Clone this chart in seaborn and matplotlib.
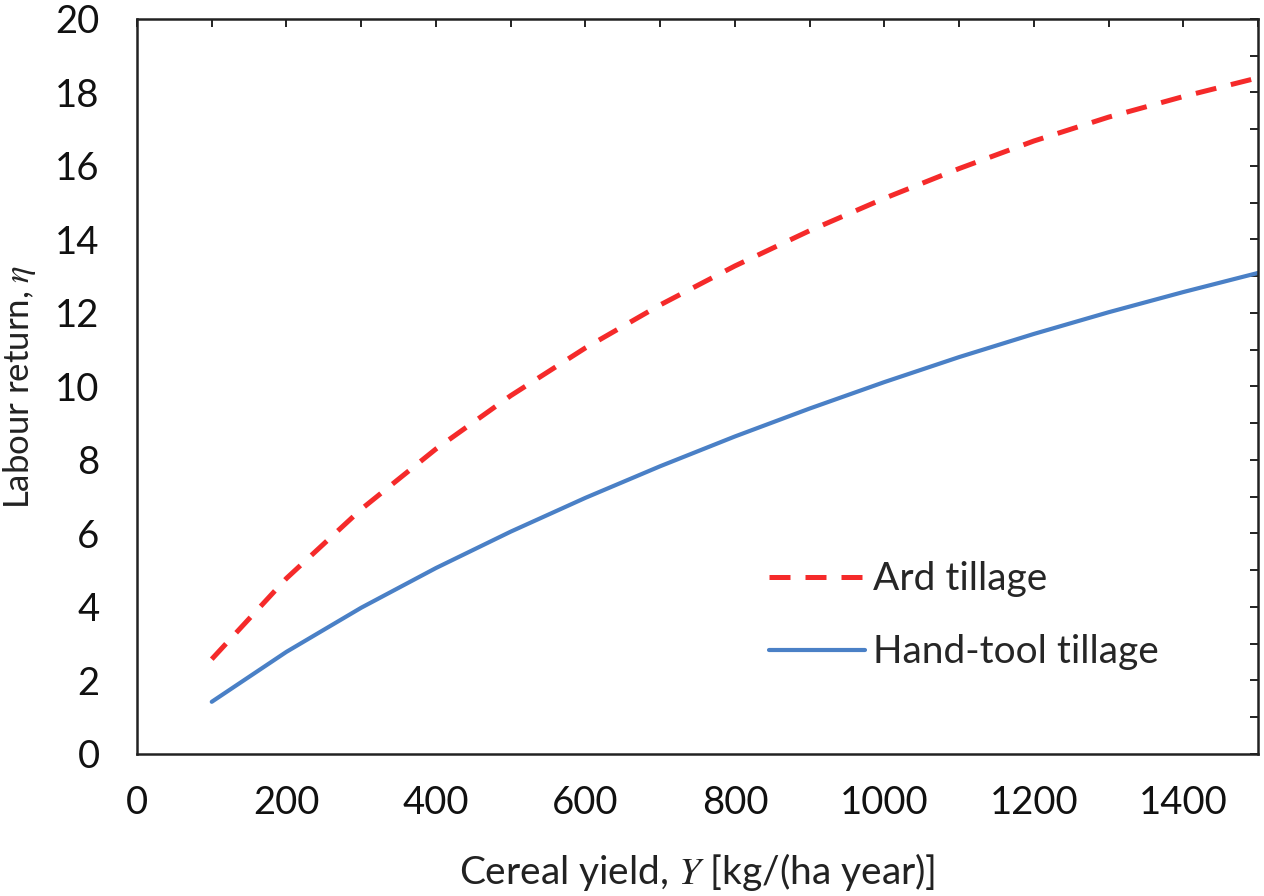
import numpy as np
import pandas as pd
import matplotlib
matplotlib.use('Agg')
import matplotlib.pyplot as plt
from matplotlib.lines import Line2D
import seaborn as sns

sns.set_style('white')
plt.rcParams.update({
    "font.family": ['Lato', 'DejaVu Sans'],
    "mathtext.fontset": 'stix',
    "axes.unicode_minus": False,
})

# cereal yield Y [kg/(ha year)]
yield_kg = [100, 200, 300, 400, 500, 600, 700, 800, 900, 1000, 1100, 1200, 1300, 1400, 1500]
# labour return
ard_tillage = [2.58, 4.78, 6.66, 8.30, 9.75, 11.05, 12.22, 13.28, 14.24, 15.12, 15.93, 16.68, 17.33, 17.89, 18.40]
hand_tillage = [1.42, 2.78, 3.98, 5.06, 6.05, 6.97, 7.83, 8.64, 9.40, 10.12, 10.80, 11.43, 12.02, 12.57, 13.09]

series_names = ['Ard tillage', 'Hand-tool tillage']

df = pd.DataFrame({
    'Y': yield_kg * 2,
    'eta': ard_tillage + hand_tillage,
    'series': [series_names[0]] * len(yield_kg) + [series_names[1]] * len(yield_kg),
})

fig = plt.figure(figsize=(12.64, 8.96), dpi=100)
ax = fig.add_axes([0.1084, 0.1585, 0.8869, 0.8203])

palette = {series_names[0]: '#f52a2a', series_names[1]: '#4a80c6'}
red_dash = (4.2, 3.0)
sns.lineplot(data=df, x='Y', y='eta', hue='series', style='series',
             palette=palette, dashes={series_names[0]: red_dash, series_names[1]: ''},
             size='series', sizes={series_names[0]: 3.6, series_names[1]: 3.0},
             ax=ax, legend=False)

ax.set_xlim(0, 1500)
ax.set_ylim(0, 20)
ax.set_xticks(np.arange(0, 1401, 200))
ax.set_xticks(np.arange(100, 1501, 200), minor=True)
ax.set_yticks(np.arange(0, 21, 2))
ax.set_yticks(np.arange(1, 20, 2), minor=True)

ax.tick_params(axis='both', which='major', direction='in', length=11, width=1.4,
               labelsize=27.5, color='#222222', labelcolor='#111111')
ax.tick_params(axis='both', which='minor', direction='in', length=7.5, width=1.4,
               color='#222222')
ax.tick_params(axis='x', which='major', pad=22)
ax.tick_params(axis='y', which='major', pad=27)

# shorter ticks on top and right
top = ax.secondary_xaxis('top')
top.set_xticks(np.arange(0, 1501, 100))
top.tick_params(direction='in', length=6, width=1.4, labeltop=False, color='#222222')
right = ax.secondary_yaxis('right')
right.set_yticks(np.arange(0, 21, 1))
right.tick_params(direction='in', length=6, width=1.4, labelright=False, color='#222222')
for s in list(top.spines.values()) + list(right.spines.values()):
    s.set_visible(False)

for s in ax.spines.values():
    s.set_linewidth(1.8)
    s.set_color('#222222')

ax.set_xlabel('Cereal yield, $Y$ [kg/(ha year)]', fontsize=28, labelpad=22, color='#222222')
ax.set_ylabel('Labour return, $\\eta$', fontsize=25, labelpad=12, color='#222222')

# legend
handles = [
    Line2D([], [], color=palette[series_names[0]], lw=3.6, dashes=red_dash),
    Line2D([], [], color=palette[series_names[1]], lw=3.0),
]
ax.legend(handles, series_names, loc='center left', bbox_to_anchor=(0.564, 0.188),
          frameon=False, fontsize=28, handlelength=2.47, handletextpad=0.2,
          labelspacing=0.96, borderpad=0, borderaxespad=0)

fig.savefig('out.png', dpi=100)
